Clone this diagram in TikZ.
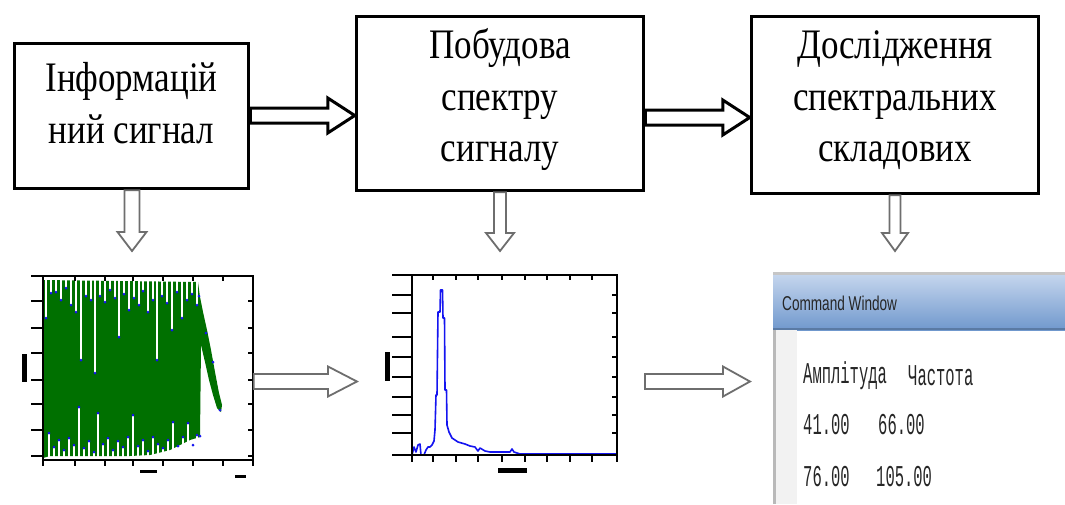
\documentclass[tikz,border=0pt]{standalone}
\usepackage{fontspec}
\usepackage{graphicx}
\setmainfont{Liberation Serif}
\newfontfamily\cwmono{Liberation Mono}
\newfontfamily\cwsans{Liberation Sans}
\usetikzlibrary{calc}
\definecolor{sigGreen}{RGB}{0,112,0}
\definecolor{sigBlue}{RGB}{20,20,240}
\definecolor{barTop}{RGB}{196,213,237}
\definecolor{barBot}{RGB}{112,152,205}
\definecolor{arrGray}{RGB}{110,110,110}
\newcommand\boxlines[1]{\scalebox{1}[1.2]{\begin{tabular}{@{}c@{}}#1\end{tabular}}}
% horizontal hollow arrow: style, start, tip, shaft half, head half, head length
\newcommand\hollowH[6]{\draw[#1] ($(#2)+(0,#4)$) -- ($(#3)+(-#6,#4)$) -- ($(#3)+(-#6,#5)$) -- (#3) -- ($(#3)+(-#6,-#5)$) -- ($(#3)+(-#6,-#4)$) -- ($(#2)+(0,-#4)$) -- cycle;}
% vertical (downward) hollow arrow
\newcommand\hollowV[6]{\draw[#1] ($(#2)+(-#4,0)$) -- ($(#3)+(-#4,-#6)$) -- ($(#3)+(-#5,-#6)$) -- (#3) -- ($(#3)+(#5,-#6)$) -- ($(#3)+(#4,-#6)$) -- ($(#2)+(#4,0)$) -- cycle;}
\newcommand\cwstr[1]{\scalebox{1}[1.95]{#1}}
\begin{document}
\begin{tikzpicture}[x=1pt,y=-1pt,
  blockbox/.style={draw=black,line width=3.5pt,minimum width=#1,inner sep=0pt},
  blocktext/.style={font=\fontsize{35}{43}\selectfont,inner sep=0pt},
  bigarrow/.style={draw=black,fill=white,line width=3pt,line join=miter},
  grayarrow/.style={draw=arrGray,fill=white,line width=1.8pt,line join=miter},
  plotframe/.style={draw=black,line width=1.5pt,minimum width=#1,inner sep=0pt},
  outtick/.style={line width=2.5pt},
  intick/.style={line width=1.2pt},
  gap/.style={white,line width=1.8pt},
  cwtext/.style={font=\cwmono\fontsize{15.5}{15.5}\selectfont,anchor=west,inner sep=0pt,text=black!85}]
\useasboundingbox (0,0) rectangle (1065,504);
\fill[white] (0,0) rectangle (1065,504);

% ---------- blocks ----------
\node[blockbox=234pt,minimum height=145pt] (b1) at (131.5,116) {};
\node[blockbox=287pt,minimum height=174pt] (b2) at (500,103.5) {};
\node[blockbox=287pt,minimum height=177pt] (b3) at (895,105) {};
\node[blocktext] (t1) at (131.5,107) {\boxlines{Інформацій\\ний сигнал}};
\node[blocktext] (t2) at (500,100) {\boxlines{Побудова\\спектру\\сигналу}};
\node[blocktext] (t3) at (895,100) {\boxlines{Дослідження\\спектральних\\складових}};

% ---------- arrows between blocks ----------
\coordinate (ya) at (0,115.5);
\coordinate (yb) at (0,117.5);
\coordinate (a1s) at (b1.east |- ya);
\coordinate (a1e) at (b2.west |- ya);
\coordinate (a2s) at (b2.east |- yb);
\coordinate (a2e) at (b3.west |- yb);
\hollowH{bigarrow}{a1s}{a1e}{7.5}{17.5}{27}
\hollowH{bigarrow}{a2s}{a2e}{7.5}{17.5}{27}

% ---------- down arrows ----------
\coordinate (yd) at (0,251);
\coordinate (d1s) at ($(b1.south)+(0.5,0)$);
\coordinate (d1e) at (d1s |- yd);
\coordinate (d2s) at (b2.south);
\coordinate (d2e) at (d2s |- yd);
\coordinate (d3s) at (b3.south);
\coordinate (d3e) at (d3s |- yd);
\hollowV{grayarrow}{d1s}{d1e}{7.5}{14.5}{19}
\hollowV{grayarrow}{d2s}{d2e}{6}{14}{18}
\hollowV{grayarrow}{d3s}{d3e}{5.5}{13}{18}

% ---------- plot 1: signal ----------
\fill[sigGreen] (43,280) -- (198,282) -- (200,297)
  -- (203,312) -- (207,330) -- (211,350) -- (215,372) -- (219,393) -- (222,405) -- (221,412) -- (217,408) -- (213,395) -- (209,380) -- (205,362) -- (201,345)
  -- (200,437) -- (190,440) -- (170,450) -- (150,455) -- (130,456) -- (110,456) -- (90,456) -- (70,456) -- (50,456) -- (43,458) -- cycle;
\foreach \x/\y in {46/318,51/293,56/292,61/300,66/288,71/305,76/312,81/360,86/296,91/300,95/373,100/296,105/302,110/290,115/298,119/337,124/294,129/310,134/298,139/305,143/291,148/312,153/300,157/360,162/296,167/303,172/330,177/292,182/318,187/300,192/294,197/305}
  {\draw[gap] (\x,277) -- (\x,\y);
   \fill[sigBlue] (\x,\y) circle (1.5);}
\foreach \x/\y in {49/433,54/447,59/440,64/450,69/438,74/445,79/407,84/448,89/441,94/452,98/413,103/444,108/438,113/450,118/441,123/447,128/437,133/415,138/446,143/440,148/451,153/437,158/444,163/448,168/440,173/422,178/446,183/437,188/423,193/445,197/435}
  {\draw[gap] (\x,459) -- (\x,\y);
   \fill[sigBlue] (\x,\y) circle (1.5);}
\foreach \x/\y in {199/296,220/410,206/333,213/362,200/436}
  {\fill[sigBlue] (\x,\y) circle (1.5);}
\node[plotframe=210pt,minimum height=184pt] (p1) at (148,368) {};
\foreach \y in {276,301,328,353,380,404,430,456}
  {\draw[outtick] (31,\y) -- (43,\y); \draw[intick] (248,\y) -- (253,\y);}
\foreach \x in {43,75,105,133,163,193,223,253}
  {\draw[outtick] (\x,460) -- (\x,466); \draw[intick] (\x,276) -- (\x,281);}
\fill[black] (22,354) rectangle (27,382);
\fill[black] (140,470) rectangle (157,473);
\fill[black] (235,475) rectangle (246,478);

% ---------- plot 2: spectrum ----------
\draw[sigBlue,line width=1.6pt,line join=round] (412,455) -- (414,447) -- (416,452) -- (418,445) -- (420,444) -- (421,455) -- (424,455) -- (426,450) -- (428,447) -- (430,447) -- (432,445) -- (434,441) -- (435,430) -- (436,395) -- (437,395) -- (438,312) -- (440,312) -- (440.5,290) -- (442.5,290) -- (443,318) -- (444.5,318) -- (445,390) -- (446.5,390) -- (447,425) -- (449,432) -- (452,438) -- (458,442) -- (465,444) -- (470,446) -- (475,447) -- (478,451) -- (480,448) -- (485,451) -- (490,452) -- (500,452) -- (510,452) -- (512,449) -- (514,452) -- (520,454) -- (617,454);
\node[plotframe=205pt,minimum height=180pt] (p2) at (514.5,365) {};
\foreach \y in {275,295,313,337,357,377,397,415,433,455}
  {\draw[outtick] (392,\y) -- (412,\y); \draw[intick] (612,\y) -- (617,\y);}
\foreach \x in {412,433,456,478,502,525,547,570,592,617}
  {\draw[outtick] (\x,455) -- (\x,462); \draw[intick] (\x,275) -- (\x,280);}
\fill[black] (385,352) rectangle (390,381);
\fill[black] (498,468) rectangle (527,473);

% ---------- command window ----------
\fill[gray!45] (773,272) rectangle (1065,275);
\shade[top color=barTop,bottom color=barBot] (773,275) rectangle (1065,330);
\fill[barBot!80!black] (773,328) rectangle (1065,330);
\fill[gray!55] (773,330) rectangle (776,504);
\fill[gray!10] (776,330) rectangle (797,504);
\node[inner sep=0pt,anchor=north west] (cw) at (773,272) {};
\node[anchor=west,inner sep=0pt,font=\cwsans\fontsize{20}{20}\selectfont,text=black!85] (cwt) at (782,303) {\scalebox{0.68}[1]{Command Window}};
\node[cwtext] (h1) at (803,376) {\cwstr{Амплітуда}};
\node[cwtext] (h2) at (908,376) {\cwstr{Частота}};
\node[cwtext] (r1a) at (803,425) {\cwstr{41.00}};
\node[cwtext] (r1b) at (878,425) {\cwstr{66.00}};
\node[cwtext] (r2a) at (803,477) {\cwstr{76.00}};
\node[cwtext] (r2b) at (876,477) {\cwstr{105.00}};

% ---------- arrows between plots ----------
\coordinate (yp) at (0,381.5);
\coordinate (q1s) at (p1.east |- yp);
\coordinate (q1e) at (357,381.5);
\coordinate (q2s) at (645,381.5);
\coordinate (q2e) at (750,381.5);
\hollowH{grayarrow}{q1s}{q1e}{7.5}{15}{29}
\hollowH{grayarrow}{q2s}{q2e}{7.5}{15}{27}
\end{tikzpicture}
\end{document}
